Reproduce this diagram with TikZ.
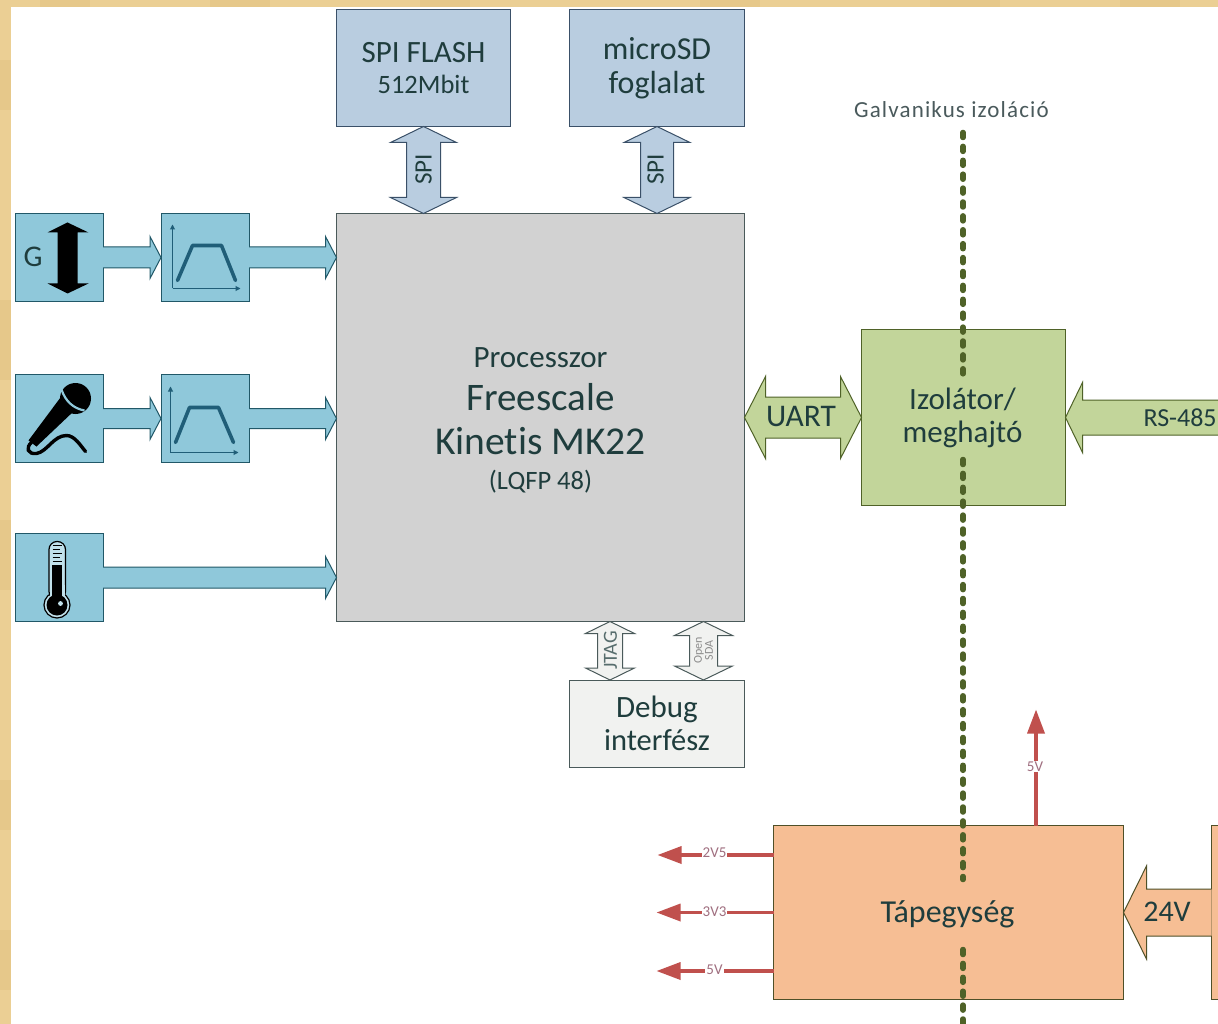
\documentclass[tikz,border=0pt]{standalone}
\usepackage{fontspec}
\setmainfont[Ligatures=NoCommon]{Carlito}
\usetikzlibrary{calc,arrows.meta}
\definecolor{txtc}{HTML}{1F3D3D}
\definecolor{frame}{HTML}{EBCF94}
\definecolor{frameb}{HTML}{E6C88A}
\definecolor{tealf}{HTML}{8FC8DA}
\definecolor{teald}{HTML}{215868}
\definecolor{steelf}{HTML}{B9CDE0}
\definecolor{steeld}{HTML}{3A5068}
\definecolor{cpuf}{HTML}{D2D2D2}
\definecolor{cpud}{HTML}{4A5A5A}
\definecolor{greenf}{HTML}{C2D59A}
\definecolor{greend}{HTML}{4F6228}
\definecolor{orangef}{HTML}{F6BE94}
\definecolor{oranged}{HTML}{4F5028}
\definecolor{dbgf}{HTML}{F1F2F0}
\definecolor{redl}{HTML}{C0504D}
\definecolor{redt}{HTML}{A06F80}
\definecolor{trap}{HTML}{205E78}
\definecolor{galv}{HTML}{4A5A5C}
\newcommand{\fs}[1]{\fontsize{#1}{#1}\selectfont}
% single block arrow: style, from, tip, half shaft, half head, head length
\newcommand{\blockH}[6]{\path[#1] let \p1=(#2),\p2=(#3),\n1={ifthenelse(\x2>\x1,1,-1)} in
  (\x1,{\y1+#4}) -- ({\x2-\n1*#6},{\y1+#4}) -- ({\x2-\n1*#6},{\y1+#5}) -- (\x2,\y1)
  -- ({\x2-\n1*#6},{\y1-#5}) -- ({\x2-\n1*#6},{\y1-#4}) -- (\x1,{\y1-#4});}
% double block arrows
\newcommand{\blockHH}[6]{\path[#1] let \p1=(#2),\p2=(#3) in
  ({\x1+#6},{\y1+#4}) -- ({\x2-#6},{\y1+#4}) -- ({\x2-#6},{\y1+#5}) -- (\x2,\y1)
  -- ({\x2-#6},{\y1-#5}) -- ({\x2-#6},{\y1-#4}) -- ({\x1+#6},{\y1-#4})
  -- ({\x1+#6},{\y1-#5}) -- (\x1,\y1) -- ({\x1+#6},{\y1+#5}) -- cycle;}
\newcommand{\blockVV}[6]{\path[#1] let \p1=(#2),\p2=(#3),\n1={ifthenelse(\y2>\y1,1,-1)} in
  ({\x1+#4},{\y1+\n1*#6}) -- ({\x1+#4},{\y2-\n1*#6}) -- ({\x1+#5},{\y2-\n1*#6}) -- (\x1,\y2)
  -- ({\x1-#5},{\y2-\n1*#6}) -- ({\x1-#4},{\y2-\n1*#6}) -- ({\x1-#4},{\y1+\n1*#6})
  -- ({\x1-#5},{\y1+\n1*#6}) -- (\x1,\y1) -- ({\x1+#5},{\y1+\n1*#6}) -- cycle;}
\tikzset{
  box/.style={draw,inner sep=0pt,outer sep=0pt,align=center,text=txtc,line width=1pt},
  teal box/.style={box,fill=tealf,draw=teald,minimum width=88pt,minimum height=88pt},
  steel box/.style={box,fill=steelf,draw=steeld,minimum width=174pt,minimum height=117pt},
  tealarrow/.style={draw=teald,fill=tealf,line width=1pt},
  steelarrow/.style={draw=steeld,fill=steelf,line width=1pt},
  dbgarrow/.style={draw=cpud,fill=dbgf,line width=1pt},
  greenarrow/.style={draw=greend,fill=greenf,line width=1pt},
  orangearrow/.style={draw=oranged,fill=orangef,line width=1pt},
  lbl/.style={inner sep=0pt,outer sep=0pt,text=txtc},
  redarrow/.style={draw=redl,line width=3.4pt,-{Triangle[length=24pt,width=17pt,fill=redl]}},
  redlbl/.style={inner sep=1pt,outer sep=0pt,text=redt,fill=white},
  isoline/.style={draw=greend,line width=5.5pt,line cap=round,dash pattern=on 5pt off 8.9pt},
  axis/.style={draw=trap,line width=1pt,-{Triangle[length=5pt,width=5pt]}},
  trapez/.style={draw=trap,line width=3.6pt,line join=round,line cap=round},
}
\begin{document}
\begin{tikzpicture}[x=1pt,y=-1pt]
\useasboundingbox (0,0) rectangle (1218,1024);
\clip (0,0) rectangle (1218,1024);
\fill[white] (0,0) rectangle (1218,1024);
\begin{scope}[shift={(-0.5,-0.5)}]

% boxes
\node[steel box] (flash) at (424,68.5) {\fs{31}SPI FLASH\\[12pt]\fs{26.5}512Mbit};
\node[steel box,minimum width=175pt] (sd) at (657.5,68.5) {\fs{32}microSD\\[11pt]\fs{32}foglalat};
\node[box,fill=cpuf,draw=cpud,minimum width=408pt,minimum height=408pt] (cpu) at (541,418) {};
\node[lbl,align=center] (cput) at (541,420.5)
  {\fs{31}Processzor\\[15pt]\fs{39}Freescale\\[15.5pt]\fs{39.5}Kinetis MK22\\[14pt]\fs{26.5}(LQFP 48)};
\node[box,fill=dbgf,draw=cpud,minimum width=175pt,minimum height=87pt] (dbg) at (657.5,724)
  {\fs{31}Debug\\[6pt]\fs{30.5}interfész};
\node[box,fill=greenf,draw=greend,minimum width=204pt,minimum height=176pt] (iso) at (964,418) {};
\node[box,fill=orangef,draw=oranged,minimum width=350pt,minimum height=174pt] (pwr) at (949,913) {};
\node[box,fill=orangef,draw=oranged,minimum width=60pt,minimum height=174pt] (pw2) at (1242,913) {};

\node[teal box] (g) at (59.5,258) {};
\node[teal box] (f1) at (205.5,258) {};
\node[teal box] (mic) at (59.5,419) {};
\node[teal box] (f2) at (205.5,419) {};
\node[teal box] (th) at (59.5,578) {};

% sensor arrows
\blockH{tealarrow}{g.east}{f1.west}{10.5pt}{21pt}{11pt}
\blockH{tealarrow}{f1.east}{f1.east -| cpu.west}{10.5pt}{21pt}{11pt}
\blockH{tealarrow}{mic.east}{f2.west}{10pt}{21pt}{11pt}
\blockH{tealarrow}{f2.east}{f2.east -| cpu.west}{10pt}{21pt}{11pt}
\blockH{tealarrow}{th.east}{th.east -| cpu.west}{10.5pt}{21pt}{11pt}

% top arrows
\blockVV{steelarrow}{flash.south}{flash.south |- cpu.north}{17pt}{33pt}{16pt}
\blockVV{steelarrow}{sd.south}{sd.south |- cpu.north}{16.5pt}{33pt}{16pt}
\node[lbl,rotate=90] (spia) at (424,170) {\fs{25}SPI};
\node[lbl,rotate=90] (spib) at (656,170) {\fs{25}SPI};

% debug arrows
\coordinate (jt) at (610.5,650);
\coordinate (os) at (704,650);
\blockVV{dbgarrow}{jt |- cpu.south}{jt |- dbg.north}{12.5pt}{24.5pt}{12pt}
\blockVV{dbgarrow}{os |- cpu.south}{os |- dbg.north}{14pt}{29pt}{14pt}
\node[lbl,rotate=90,text=txtc!75!white] (jtag) at (611,651) {\fs{20}JTAG};
\node[lbl,rotate=90,align=center,text=black!45] (osda) at (704,651) {\fs{12}Open\\[-1pt]\fs{12}SDA};

% right side arrows
\coordinate (rsend) at (1240,418);
\blockHH{greenarrow}{cpu.east}{iso.west}{20.5pt}{41pt}{21pt}
\blockH{greenarrow}{rsend}{iso.east}{17.5pt}{35pt}{17pt}
\blockH{orangearrow}{pw2.west}{pwr.east}{23.5pt}{46.5pt}{23pt}
\node[lbl] (uart) at (801.5,417) {\fs{31.5}UART};
\node[lbl,anchor=west] (rs) at (1144,418) {\fs{26}RS-485};
\node[lbl] (v24) at (1167.5,912.5) {\fs{30}24V};

% isolation line
\coordinate (i0) at (963.5,133);
\coordinate (i1) at (963.5,375);
\coordinate (i2) at (963.5,460);
\coordinate (i3) at (963.5,880);
\coordinate (i4) at (963.5,950);
\coordinate (i5) at (963.5,1030);
\draw[isoline] (i0) -- (i1);
\draw[isoline] (i2) -- (i3);
\draw[isoline] (i4) -- (i5);
\node[lbl,text=galv] (gal) at (952,110) {\addfontfeature{LetterSpace=5}\fs{23}Galvanikus izoláció};

\node[lbl,align=center] (isot) at (963,418) {\fs{31}Izolátor/\\[9pt]\fs{31}meghajtó};
\node[lbl] (pwrt) at (948,914.5) {\fs{32}Tápegység};

% power rails
\coordinate (t1) at (658,855.5);
\coordinate (t2) at (657,913);
\coordinate (t3) at (657,971.5);
\coordinate (t4) at (1036.5,710);
\draw[redarrow] (t1 -| pwr.west) -- (t1);
\draw[redarrow] (t2 -| pwr.west) -- (t2);
\draw[redarrow] (t3 -| pwr.west) -- (t3);
\draw[redarrow] (t4 |- pwr.north) -- (t4);
\node[redlbl] (l1) at (715,853.5) {\fs{15}2V5};
\node[redlbl] (l2) at (715,912) {\fs{15}3V3};
\node[redlbl] (l3) at (715,970) {\fs{15}5V};
\node[redlbl] (l4) at (1035.5,767) {\fs{15}5V};

% G icon
\node[lbl] (gt) at (33.5,257.5) {\fs{30}G};
\fill[black] (68,223) -- (89,233) -- (78,233) -- (78,284) -- (89,284) -- (68,294) -- (48,284) -- (58,284) -- (58,233) -- (48,233) -- cycle;

% filter icons
\draw[axis] (173,289) -- (173,225);
\draw[axis] (173,289) -- (241,289);
\draw[trapez] (178,281) -- (193,246) -- (222,246) -- (236,281);
\draw[axis] (171,453) -- (171,387);
\draw[axis] (171,453) -- (239,453);
\draw[trapez] (176,443) -- (190,408) -- (219,408) -- (234,443);

% microphone
\fill[black] (29,441) -- (61,398) -- (75,411) -- (37,447) -- cycle;
\fill[black] (76,399) circle (15.5);
\draw[tealf,line width=2.2pt] (62,390) .. controls (66,402) and (74,409) .. (85,411);
\draw[black,line width=3.4pt,line cap=round] (32,443) .. controls (26,448) and (28,455) .. (37,454)
  .. controls (48,452) and (54,436) .. (67,436) .. controls (75,436) and (81,446) .. (86,452);

% thermometer
\draw[black,line width=1.2pt,fill=tealf!55!white] (57.5,605.5) circle (13);
\draw[black,line width=1.2pt,fill=tealf!55!white,rounded corners=8pt] (49.5,542) rectangle (66,600);
\fill[tealf!55!white] (50.1,585) rectangle (65.4,606);
\fill[black] (52.5,565) rectangle (62.5,600);
\fill[black] (57.5,605.5) circle (10.5);
\fill[tealf!55!white] (61,604) circle (2.4);
\foreach \yy/\xx in {546/62,550/60,554/62,558/60,562/62}{\draw[black,line width=1pt] (53,\yy) -- (\xx,\yy);}
\end{scope}

% textured frame
\fill[frame] (0,0) rectangle (1218,7);
\fill[frame] (0,0) rectangle (11,1024);
\foreach \a/\b in {40/90,210/270,420/470,700/760,930/1000,1120/1180}{\fill[frameb] (\a,0) rectangle (\b,7);}
\foreach \a/\b in {60/110,300/380,520/590,780/830,930/990}{\fill[frameb] (0,\a) rectangle (11,\b);}
\end{tikzpicture}
\end{document}
